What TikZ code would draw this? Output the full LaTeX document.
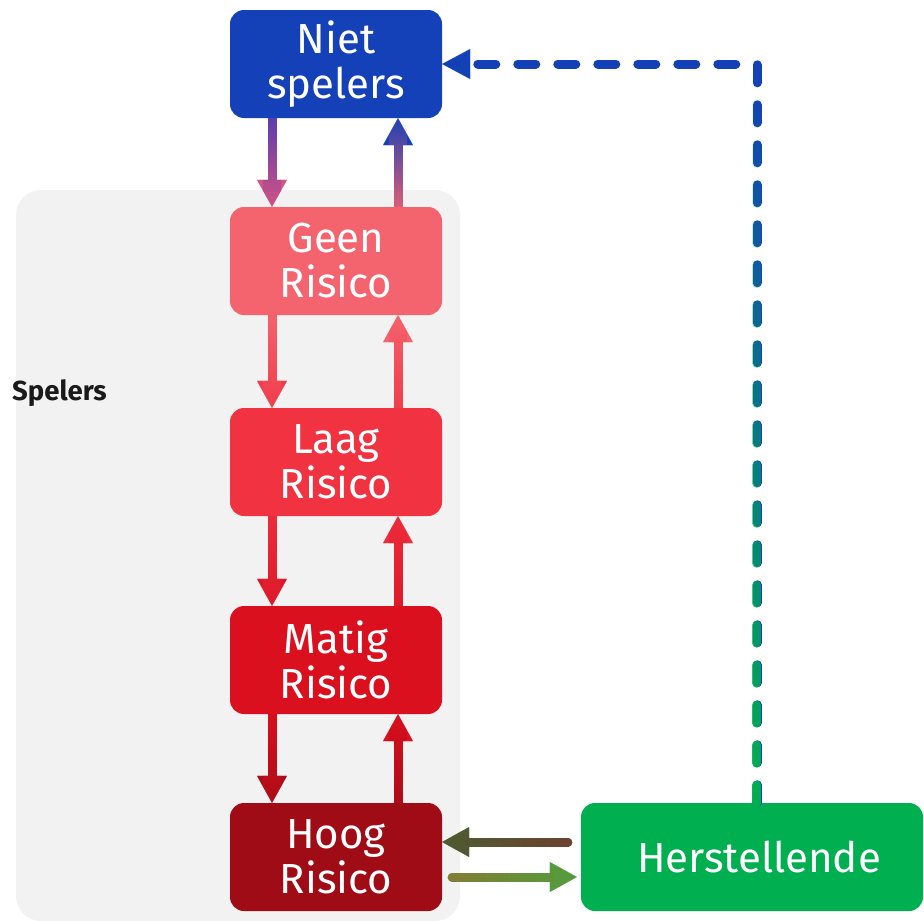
\documentclass[tikz,border=0pt]{standalone}
\usepackage{fontspec}
\setmainfont{Fira Sans}
\usetikzlibrary{arrows.meta,fadings}

\definecolor{cniet}{RGB}{20,64,184}
\definecolor{cgeen}{RGB}{244,100,110}
\definecolor{claag}{RGB}{240,50,65}
\definecolor{cmatig}{RGB}{218,16,30}
\definecolor{choog}{RGB}{160,12,22}
\definecolor{cher}{RGB}{0,176,80}
\definecolor{cbg}{RGB}{242,242,242}
\definecolor{ctxt}{RGB}{26,26,26}
% arrow colours
\definecolor{aNGtop}{RGB}{90,60,176}
\definecolor{aNGbot}{RGB}{214,84,130}
\definecolor{aGNbot}{RGB}{230,95,115}
\definecolor{aGLbot}{RGB}{240,60,75}
\definecolor{aLMtop}{RGB}{238,45,60}
\definecolor{aLMbot}{RGB}{220,25,40}
\definecolor{aMHbot}{RGB}{172,12,25}
\definecolor{aHHtail}{RGB}{112,64,48}
\definecolor{aHHhead}{RGB}{76,92,50}
\definecolor{aHRtail}{RGB}{135,122,52}
\definecolor{aHRhead}{RGB}{78,160,62}

\newcommand\gradconn[5]{%
  \draw[#1,draw=#2] #5;
  \draw[#1,draw=#3,path fading=#4] #5;}

\tikzset{
  box/.style={rounded corners=14pt, minimum width=212pt, minimum height=108pt,
    inner sep=0pt, text=white, align=center,
    font=\fontsize{42}{45}\selectfont},
  arr/.style={line width=9pt, -{Triangle[width=30pt,length=27pt,line width=0.01pt]}},
  harr/.style={arr, line cap=round},
  dashconn/.style={line width=9pt, dash pattern=on 18pt off 22pt, line cap=round,
    -{Triangle[width=30pt,length=28pt,line width=0.01pt]}},
}

\begin{document}
\begin{tikzpicture}[x=1pt,y=-1pt]
\useasboundingbox (0,0) rectangle (924,921);

\node[fill=cbg, rounded corners=25pt, minimum width=444pt, minimum height=731pt,
  inner sep=0pt] (grp) at (238,555.5) {};
\node[font=\bfseries\fontsize{27.5}{30}\selectfont, text=ctxt, anchor=west,
  inner sep=0pt] (lbl) at (12,393) {Spelers};

\node[box, fill=cniet]  (ns)  at (336,64)  {Niet\\spelers};
\node[box, fill=cgeen]  (geen) at (336,261) {Geen\\Risico};
\node[box, fill=claag]  (laag) at (336,462) {Laag\\Risico};
\node[box, fill=cmatig] (matig) at (336,660) {Matig\\Risico};
\node[box, fill=choog]  (hoog) at (336,857) {Hoog\\Risico};
\node[box, fill=cher, minimum width=342pt] (her) at (752,857) {\hspace*{14pt}Herstellende};

\coordinate (xd) at (272,0);
\coordinate (xu) at (398,0);
\coordinate (xv) at (757,0);
\coordinate (y1) at (0,842);
\coordinate (y2) at (0,877);

% vertical connectors
\gradconn{arr}{aNGbot}{aNGtop}{south}{(ns.south -| xd) -- (geen.north -| xd)}
\gradconn{arr}{cniet}{aGNbot}{north}{(geen.north -| xu) -- (ns.south -| xu)}
\gradconn{arr}{aGLbot}{cgeen}{south}{(geen.south -| xd) -- (laag.north -| xd)}
\gradconn{arr}{cgeen}{aGLbot}{north}{(laag.north -| xu) -- (geen.south -| xu)}
\gradconn{arr}{aLMbot}{aLMtop}{south}{(laag.south -| xd) -- (matig.north -| xd)}
\gradconn{arr}{aLMtop}{aLMbot}{north}{(matig.north -| xu) -- (laag.south -| xu)}
\gradconn{arr}{aMHbot}{cmatig}{south}{(matig.south -| xd) -- (hoog.north -| xd)}
\gradconn{arr}{cmatig}{aMHbot}{north}{(hoog.north -| xu) -- (matig.south -| xu)}

% horizontal connectors
\gradconn{harr,shorten <=13pt}{aHHhead}{aHHtail}{west}{(her.west |- y1) -- (hoog.east |- y1)}
\gradconn{harr,shorten <=10pt,shorten >=4pt}{aHRhead}{aHRtail}{east}{(hoog.east |- y2) -- (her.west |- y2)}

% dashed return connector
\gradconn{dashconn}{cniet}{cher}{north}{(her.north -| xv) |- (ns.east)}
\end{tikzpicture}
\end{document}
